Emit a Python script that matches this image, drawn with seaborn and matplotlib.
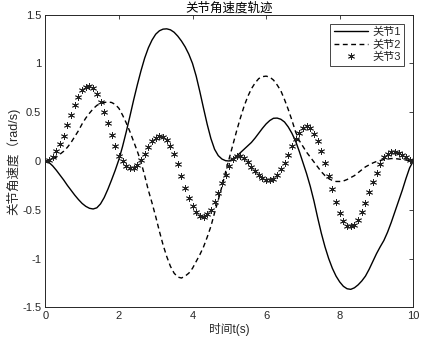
import numpy as np
import pandas as pd
import seaborn as sns
import matplotlib
matplotlib.use('Agg')
import matplotlib.pyplot as plt

# 时间 0~10 s，步长 0.1
t = np.round(np.arange(0, 101) * 0.1, 1)

# 关节1（实线）
w1 = [0.000, -0.015, -0.050, -0.095, -0.145, -0.195, -0.250, -0.300, -0.350, -0.395,
      -0.435, -0.465, -0.485, -0.492, -0.480, -0.440, -0.375, -0.290, -0.195, -0.095,
      0.015, 0.150, 0.300, 0.460, 0.625, 0.780, 0.925, 1.055, 1.160, 1.240,
      1.300, 1.335, 1.352, 1.355, 1.345, 1.320, 1.280, 1.230, 1.170, 1.095,
      1.000, 0.870, 0.710, 0.540, 0.375, 0.230, 0.120, 0.055, 0.020, 0.003,
      0.000, 0.020, 0.050, 0.085, 0.120, 0.155, 0.190, 0.235, 0.285, 0.335,
      0.380, 0.415, 0.438, 0.440, 0.428, 0.400, 0.350, 0.285, 0.205, 0.100,
      -0.015, -0.130, -0.260, -0.410, -0.580, -0.740, -0.880, -1.000, -1.100, -1.180,
      -1.240, -1.285, -1.310, -1.316, -1.300, -1.270, -1.230, -1.180, -1.110, -1.030,
      -0.950, -0.880, -0.815, -0.730, -0.630, -0.520, -0.410, -0.300, -0.180, -0.070,
      0.000]

# 关节2（虚线）
w2 = [0.000, 0.005, 0.020, 0.040, 0.070, 0.100, 0.140, 0.190, 0.250, 0.310,
      0.380, 0.440, 0.490, 0.535, 0.570, 0.590, 0.600, 0.605, 0.600, 0.580,
      0.540, 0.470, 0.390, 0.300, 0.200, 0.100, -0.010, -0.150, -0.300, -0.430,
      -0.570, -0.720, -0.860, -0.980, -1.080, -1.150, -1.190, -1.200, -1.180, -1.150,
      -1.100, -1.030, -0.960, -0.880, -0.780, -0.670, -0.530, -0.400, -0.260, -0.110,
      0.030, 0.170, 0.310, 0.440, 0.560, 0.660, 0.740, 0.800, 0.845, 0.865,
      0.870, 0.860, 0.830, 0.780, 0.720, 0.630, 0.530, 0.420, 0.300, 0.210,
      0.150, 0.090, 0.040, -0.010, -0.060, -0.110, -0.150, -0.180, -0.200, -0.210,
      -0.210, -0.205, -0.190, -0.170, -0.150, -0.120, -0.090, -0.060, -0.040, -0.020,
      -0.005, 0.005, 0.015, 0.020, 0.025, 0.025, 0.020, 0.015, 0.010, 0.005,
      0.000]

# 关节3（星号）
w3 = [0.000, 0.010, 0.040, 0.100, 0.170, 0.260, 0.370, 0.470, 0.570, 0.660,
      0.725, 0.760, 0.770, 0.745, 0.690, 0.610, 0.500, 0.390, 0.270, 0.155,
      0.055, -0.005, -0.050, -0.075, -0.075, -0.040, 0.010, 0.070, 0.140, 0.200,
      0.235, 0.255, 0.250, 0.215, 0.155, 0.070, -0.030, -0.150, -0.280, -0.380,
      -0.465, -0.525, -0.565, -0.570, -0.545, -0.500, -0.420, -0.330, -0.230, -0.140,
      -0.050, 0.020, 0.050, 0.050, 0.030, -0.010, -0.060, -0.100, -0.140, -0.170,
      -0.190, -0.195, -0.180, -0.140, -0.085, -0.020, 0.060, 0.150, 0.230, 0.290,
      0.340, 0.360, 0.340, 0.280, 0.200, 0.100, -0.025, -0.150, -0.290, -0.420,
      -0.530, -0.615, -0.665, -0.670, -0.655, -0.610, -0.520, -0.430, -0.320, -0.220,
      -0.120, -0.030, 0.045, 0.070, 0.090, 0.095, 0.080, 0.060, 0.040, 0.010,
      0.000]

labels = ['关节1', '关节2', '关节3']
xticks = [0, 2, 4, 6, 8, 10]
yticks = [-1.5, -1, -0.5, 0, 0.5, 1, 1.5]
ytick_labels = ['-1.5', '-1', '-0.5', '0', '0.5', '1', '1.5']

df = pd.DataFrame({'t': t, 'w1': w1, 'w2': w2, 'w3': w3})

sns.set_style('white')
axc = '#262626'
plt.rcParams['font.family'] = ['Liberation Sans', 'Noto Sans CJK SC']
plt.rcParams['axes.edgecolor'] = axc
plt.rcParams['xtick.color'] = axc
plt.rcParams['ytick.color'] = axc
plt.rcParams['axes.linewidth'] = 0.7

fig = plt.figure(figsize=(4.25, 3.45), dpi=100)
ax = fig.add_axes([0.1066, 0.1093, 0.8659, 0.8481])

sns.lineplot(data=df, x='t', y='w1', ax=ax, color='black', linewidth=1.0, label=labels[0])
sns.lineplot(data=df, x='t', y='w2', ax=ax, color='black', linewidth=1.0,
             label=labels[1]).lines[-1].set_dashes((3.5, 2.5))
sns.lineplot(data=df, x='t', y='w3', ax=ax, color='#222222', linestyle='',
             marker=(6, 2, 0), markersize=5, markeredgewidth=0.6,
             markeredgecolor='#222222', label=labels[2])

ax.set_xlim(0, 10)
ax.set_ylim(-1.5, 1.5)
ax.set_xticks(xticks)
ax.set_xticklabels([str(v) for v in xticks])
ax.set_yticks(yticks)
ax.set_yticklabels(ytick_labels)
ax.tick_params(direction='in', length=3, width=0.6, labelsize=8,
               top=True, right=True, labelcolor=axc, pad=3)
ax.set_title('关节角速度轨迹', fontsize=9, color='black', pad=2)
ax.set_xlabel('时间t(s)', fontsize=8.5, color=axc, labelpad=1)
ax.set_ylabel('关节角速度（rad/s)', fontsize=9, color=axc, labelpad=1)

leg = ax.legend(loc='upper right', fontsize=8, frameon=True, fancybox=False,
                edgecolor=axc, framealpha=1, handlelength=3.1, handletextpad=0.4,
                borderpad=0.3, labelspacing=0.2, borderaxespad=0.8)
leg.get_frame().set_linewidth(0.6)

fig.savefig('out.png', dpi=100)
